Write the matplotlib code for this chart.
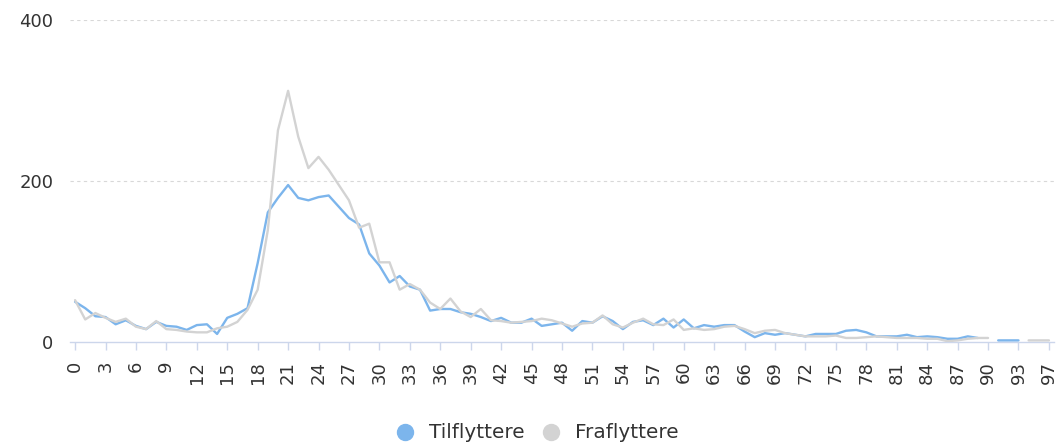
import matplotlib
matplotlib.use("Agg")
import matplotlib.pyplot as plt
from matplotlib.lines import Line2D
import numpy as np

# ---- data ----
ages = [str(a) for a in range(0, 96)] + ["97"]

tilflyttere = [50, 42, 32, 31, 22, 27, 20, 16, 25, 20,
               19, 15, 21, 22, 10, 30, 35, 42, 98, 161,
               179, 195, 179, 176, 180, 182, 168, 154, 146, 110,
               95, 74, 82, 69, 65, 39, 41, 41, 37, 35,
               31, 26, 30, 24, 24, 29, 20, 22, 24, 14,
               26, 24, 32, 26, 16, 25, 27, 21, 29, 18,
               28, 17, 21, 19, 21, 21, 13, 6, 11, 9,
               11, 9, 7, 10, 10, 10, 14, 15, 12, 7,
               7, 7, 9, 6, 7, 6, 4, 4, 7, 5,
               None, 2, 2, 2, None, None, None]

fraflyttere = [52, 28, 36, 30, 25, 29, 19, 16, 26, 16,
               15, 13, 12, 12, 17, 19, 25, 40, 65, 139,
               263, 312, 255, 216, 230, 214, 195, 176, 142, 147,
               99, 99, 65, 72, 65, 49, 41, 54, 38, 31,
               41, 27, 26, 24, 25, 26, 29, 27, 23, 19,
               23, 24, 33, 22, 18, 24, 29, 22, 21, 28,
               15, 17, 15, 16, 19, 20, 16, 11, 14, 15,
               11, 9, 7, 7, 7, 8, 5, 5, 6, 7,
               6, 5, 5, 5, 4, 4, 1, 2, 4, 5,
               5, None, None, None, 2, 2, 2]

series_names = ["Tilflyttere", "Fraflyttere"]
colors = ["#7cb5ec", "#d3d3d3"]
y_ticks = [0, 200, 400]

# ---- figure ----
W, H = 1059, 445
plt.rcParams['font.family'] = ['DejaVu Sans']
fig = plt.figure(figsize=(W / 100, H / 100), dpi=100)

left_px, right_px, top_px, bottom_px = 70, 1054, 20, 342
ax = fig.add_axes([left_px / W, 1 - bottom_px / H,
                   (right_px - left_px) / W, (bottom_px - top_px) / H])

x = np.arange(len(ages))
def to_arr(v):
    return np.array([np.nan if a is None else a for a in v], dtype=float)

ax.plot(x, to_arr(tilflyttere), color=colors[0], lw=1.7, solid_joinstyle='round',
        solid_capstyle='round', zorder=3)
ax.plot(x, to_arr(fraflyttere), color=colors[1], lw=1.7, solid_joinstyle='round',
        solid_capstyle='round', zorder=4)

ax.set_xlim(-0.5, len(ages) - 0.5)
ax.set_ylim(0, 400)

for s in ["top", "right", "left"]:
    ax.spines[s].set_visible(False)
ax.spines["bottom"].set_color("#ccd6eb")
ax.spines["bottom"].set_linewidth(1.0)

ax.set_yticks(y_ticks)
ax.set_yticklabels([str(v) for v in y_ticks], fontsize=13, color="#333333")
ax.tick_params(axis='y', length=0, pad=12)
for v in y_ticks[1:]:
    ax.axhline(v, color="#d8d8d8", lw=0.8, ls=(0, (3, 3)), zorder=1)

tick_idx = list(range(0, len(ages), 3))
ax.set_xticks(tick_idx)
ax.set_xticklabels([ages[i] for i in tick_idx], rotation=90, fontsize=13,
                   color="#333333", va='top', ha='center')
ax.tick_params(axis='x', length=5.5, width=1, color="#ccd6eb", pad=8)

handles = [Line2D([0], [0], marker='o', ls='none', markersize=11.5,
                  markerfacecolor=c, markeredgecolor=c) for c in colors]
fig.legend(handles, series_names, loc='center', bbox_to_anchor=(537 / W, 1 - 433 / H),
           ncol=2, frameon=False, fontsize=14.4, handletextpad=0.7, columnspacing=0.8,
           labelcolor="#333333", handlelength=1.0)

fig.savefig("out.png", dpi=100)
